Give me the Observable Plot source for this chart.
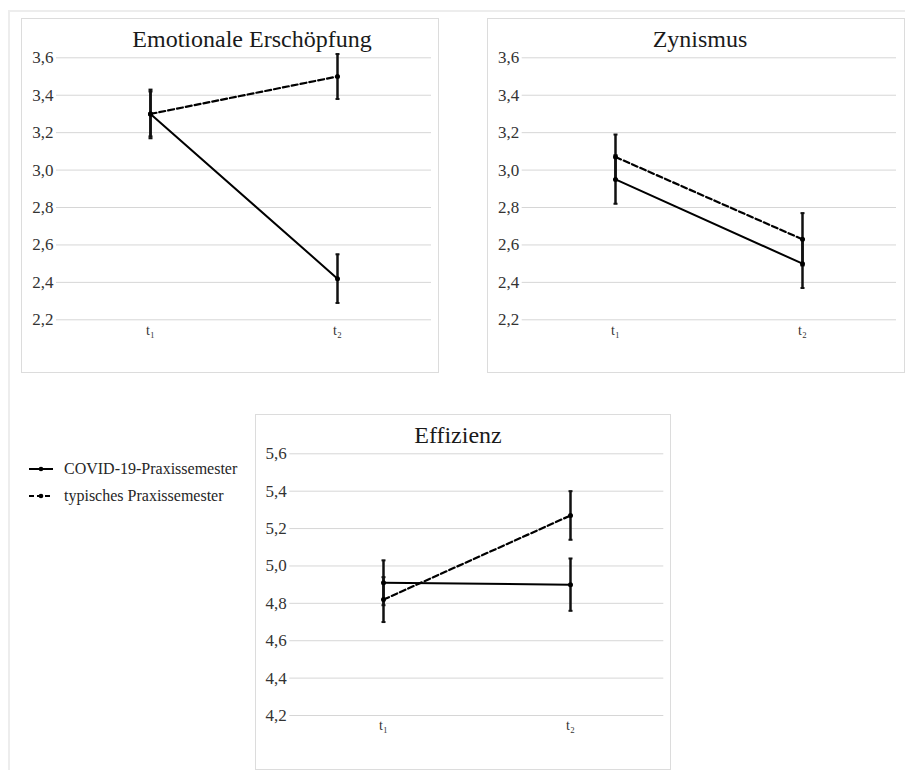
<!DOCTYPE html>
<html><head><meta charset="utf-8">
<script src="https://cdn.jsdelivr.net/npm/d3@7"></script>
<script src="https://cdn.jsdelivr.net/npm/@observablehq/plot@0.6"></script>
<style>
body{margin:0;background:#fff;font-family:"Liberation Serif","Tinos","Times New Roman","DejaVu Serif",serif;}
#root{position:relative;width:905px;height:770px;overflow:hidden;background:#fff;}
.frame{position:absolute;left:8px;top:10px;width:910px;height:780px;border-top:2px solid #ededed;border-left:2px solid #ededed;}
.panel{position:absolute;box-sizing:border-box;border:1px solid #dcdcdc;background:#fff;}
.ptitle{height:33px;line-height:40px;font-size:24px;text-align:center;color:#1a1a1a;white-space:nowrap;position:relative;}
.legend{position:absolute;left:29px;top:455px;font-size:16px;color:#262626;}
.legend .row{height:27px;line-height:27px;display:flex;align-items:center;white-space:nowrap;}
.legend svg{margin-right:11px;}
</style>
</head><body>
<div id="root"><div class="frame"></div></div>
<script>
// ---- data ----
const times = ["t\u2081", "t\u2082"];
const seriesNames = ["COVID-19-Praxissemester", "typisches Praxissemester"];
const titles = ["Emotionale Erschöpfung", "Zynismus", "Effizienz"];

const eeTicks = [2.2, 2.4, 2.6, 2.8, 3.0, 3.2, 3.4, 3.6];
const zyTicks = [2.2, 2.4, 2.6, 2.8, 3.0, 3.2, 3.4, 3.6];
const efTicks = [4.2, 4.4, 4.6, 4.8, 5.0, 5.2, 5.4, 5.6];

const eeCovid = [3.30, 2.42];
const eeCovidErr = [0.13, 0.13];
const eeTyp = [3.30, 3.50];
const eeTypErr = [0.12, 0.12];

const zyCovid = [2.95, 2.50];
const zyCovidErr = [0.13, 0.13];
const zyTyp = [3.07, 2.63];
const zyTypErr = [0.12, 0.14];

const efCovid = [4.91, 4.90];
const efCovidErr = [0.12, 0.14];
const efTyp = [4.82, 5.27];
const efTypErr = [0.12, 0.13];

// ---- layout ----
const FONT = '"Liberation Serif","Tinos","Times New Roman","DejaVu Serif",serif';
const layouts = [
  {left:21, top:18, width:418, height:355, mL:34, mR:7, mT:5.3, mB:52.7, dx:22},
  {left:487, top:18, width:418, height:355, mL:33.7, mR:8, mT:5.3, mB:52.7, dx:4},
  {left:255, top:414, width:416, height:356, mL:33.3, mR:6.7, mT:5.3, mB:54, dx:-5}
];

const fmt = d => d.toFixed(1).replace(".", ",");
const cap = {draw(ctx, size){ const r = Math.sqrt(size / Math.PI); ctx.moveTo(-r, 0); ctx.lineTo(r, 0); }};

function rows(vals, errs, s){ return times.map((t,i)=>({time:t, series:s, value:vals[i], err:errs[i]})); }

function panel(idx, covid, covidErr, typ, typErr, ticks){
  const L = layouts[idx];
  const div = document.createElement("div");
  div.className = "panel";
  Object.assign(div.style, {left:L.left+"px", top:L.top+"px", width:L.width+"px", height:L.height+"px"});
  const t = document.createElement("div");
  t.className = "ptitle";
  t.style.left = L.dx + "px";
  t.textContent = titles[idx];
  div.appendChild(t);
  const a = rows(covid, covidErr, seriesNames[0]);
  const b = rows(typ, typErr, seriesNames[1]);
  const all = a.concat(b);
  const w = L.width - 2, h = L.height - 2 - 33;
  const chart = Plot.plot({
    width: w, height: h,
    marginLeft: L.mL, marginRight: L.mR, marginTop: L.mT, marginBottom: L.mB,
    style: {fontFamily: FONT, color: "#333", background: "transparent", overflow: "visible"},
    x: {type: "point", domain: times, padding: 0.5},
    y: {domain: [ticks[0], ticks[ticks.length-1]]},
    marks: [
      Plot.ruleY(ticks, {stroke: "#d6d6d6", strokeWidth: 1}),
      Plot.axisY({ticks: ticks, tickFormat: fmt, tickSize: 0, tickPadding: 3, fontSize: 17, label: null}),
      Plot.axisX({tickSize: 0, tickPadding: 5, fontSize: 14, label: null}),
      Plot.line(a, {x: "time", y: "value", stroke: "#000", strokeWidth: 2}),
      Plot.line(b, {x: "time", y: "value", stroke: "#000", strokeWidth: 2.2, strokeDasharray: "6,3"}),
      Plot.ruleX(all, {x: "time", y1: d => d.value - d.err, y2: d => d.value + d.err, stroke: "#111", strokeWidth: 2.5}),
      Plot.dot(all, {x: "time", y: d => d.value - d.err, symbol: cap, r: 2, stroke: "#111", strokeWidth: 2}),
      Plot.dot(all, {x: "time", y: d => d.value + d.err, symbol: cap, r: 2, stroke: "#111", strokeWidth: 2}),
      Plot.dot(all, {x: "time", y: "value", r: 2.5, fill: "#000"})
    ]
  });
  div.appendChild(chart);
  document.getElementById("root").appendChild(div);
}

panel(0, eeCovid, eeCovidErr, eeTyp, eeTypErr, eeTicks);
panel(1, zyCovid, zyCovidErr, zyTyp, zyTypErr, zyTicks);
panel(2, efCovid, efCovidErr, efTyp, efTypErr, efTicks);

// legend
const leg = document.createElement("div");
leg.className = "legend";
seriesNames.forEach((name, i) => {
  const row = document.createElement("div");
  row.className = "row";
  const dash = i === 0 ? "" : ' stroke-dasharray="5,3"';
  row.innerHTML = `<svg width="24" height="10" viewBox="0 0 24 10"><line x1="0" x2="24" y1="5" y2="5" stroke="#000" stroke-width="2"${dash}/><circle cx="12" cy="5" r="2.3" fill="#000"/></svg><span>${name}</span>`;
  leg.appendChild(row);
});
document.getElementById("root").appendChild(leg);
</script>
</body></html>
